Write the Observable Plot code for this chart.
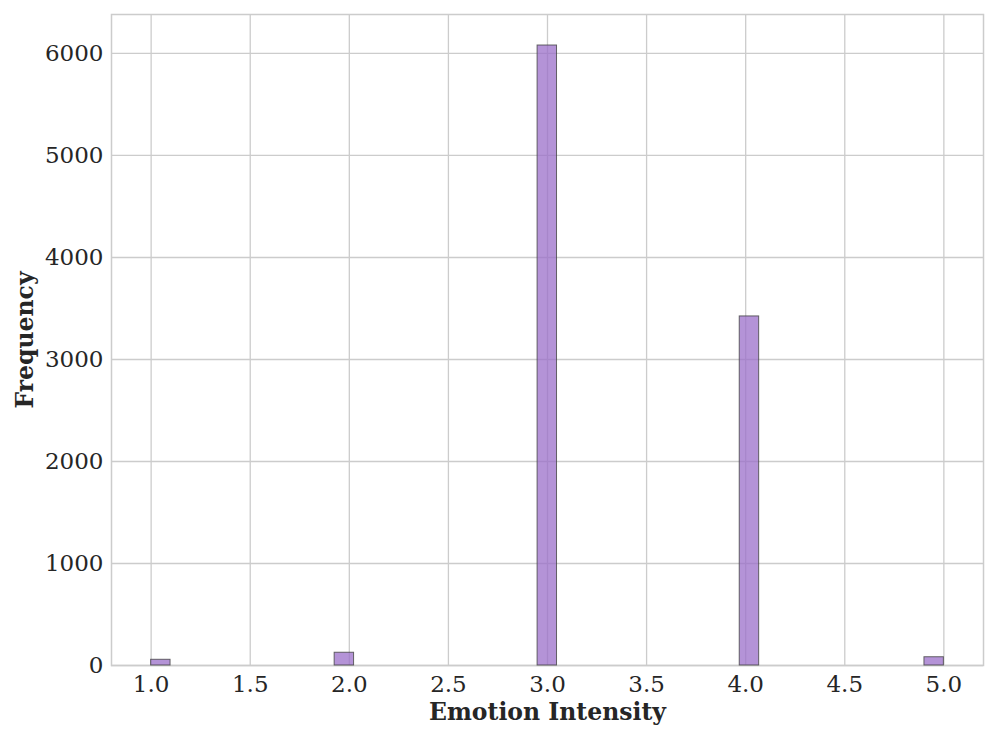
<!DOCTYPE html>
<html>
<head>
<meta charset="utf-8">
<script src="https://cdn.jsdelivr.net/npm/d3@7"></script>
<script src="https://cdn.jsdelivr.net/npm/@observablehq/plot@0.6"></script>
<style>
  html, body { margin: 0; padding: 0; background: #fff; }
  #chart svg { display: block; }
</style>
</head>
<body>
<div id="chart"></div>
<script>
// Histogram bins
const binStart = [1.0, 1.926, 2.95, 3.97, 4.902];
const binEnd   = [1.098, 2.024, 3.048, 4.068, 5.0];
const counts   = [56, 125, 6078, 3422, 81];
const xTicks = [1.0, 1.5, 2.0, 2.5, 3.0, 3.5, 4.0, 4.5, 5.0];
const yTicks = [0, 1000, 2000, 3000, 4000, 5000, 6000];
const xLabel = "Emotion Intensity";
const yLabel = "Frequency";

const bins = binStart.map((s, i) => ({x1: s, x2: binEnd[i], y: counts[i]}));

const font = "DejaVu Serif";
const chart = Plot.plot({
  width: 997,
  height: 739,
  marginLeft: 111,
  marginRight: 14,
  marginTop: 14,
  marginBottom: 74,
  style: {fontFamily: font, fontSize: "23px", color: "#262626", background: "#fff"},
  x: {domain: [0.8, 5.2]},
  y: {domain: [0, 6382]},
  marks: [
    Plot.gridX(xTicks, {stroke: "#cccccc", strokeOpacity: 1, strokeWidth: 1.3}),
    Plot.gridY(yTicks, {stroke: "#cccccc", strokeOpacity: 1, strokeWidth: 1.3}),
    Plot.frame({stroke: "#cccccc", strokeWidth: 1.5}),
    Plot.rectY(bins, {x1: "x1", x2: "x2", y: "y", fill: "#9b6fc9", fillOpacity: 0.75, stroke: "#444", strokeOpacity: 0.8, strokeWidth: 1}),
    Plot.axisX(xTicks, {tickSize: 0, tickPadding: 10, tickFormat: d => d.toFixed(1), label: null, fontSize: 23}),
    Plot.axisY(yTicks, {tickSize: 0, tickPadding: 8, tickFormat: d3.format("d"), label: null, fontSize: 23}),
    Plot.text([xLabel], {text: d => d, frameAnchor: "bottom", textAnchor: "middle", dy: 54, fontWeight: "bold", fontSize: 23.5, fill: "#262626"}),
    Plot.text([yLabel], {text: d => d, frameAnchor: "left", textAnchor: "middle", dx: -86, rotate: -90, fontWeight: "bold", fontSize: 23.5, fill: "#262626"})
  ]
});
document.getElementById("chart").append(chart);
</script>
</body>
</html>
